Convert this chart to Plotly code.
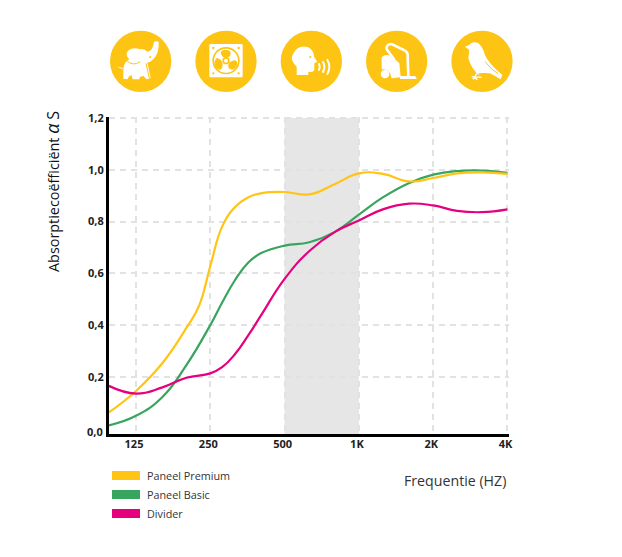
import re
import plotly.graph_objects as go

W, H = 622, 557
FONT = "Open Sans"
YEL, GRN, PNK = "#FFC414", "#38A55F", "#E6007E"
GOLD = "#FDC414"

hz_y = [97, 125, 160, 200, 225, 250, 280, 315, 355, 400, 500, 630, 800, 1000, 1250, 1600, 2000, 2500, 3150, 4000]
premium = [.062, .145, .253, .389, .474, .628, .783, .856, .893, .909, .914, .905, .945, .986, .984, .955, .968, .986, .990, .984]
hz_g = [97, 125, 160, 200, 250, 280, 315, 355, 400, 500, 630, 800, 1000, 1250, 1600, 2000, 2500, 3150, 4000]
basic = [.012, .049, .122, .245, .400, .489, .574, .640, .677, .707, .720, .760, .827, .893, .949, .981, .995, .997, .988]
hz_p = [97, 125, 160, 200, 250, 280, 315, 355, 400, 500, 630, 800, 1000, 1250, 1600, 2000, 2500, 3150, 4000]
divider = [.165, .135, .159, .196, .213, .238, .288, .358, .435, .578, .686, .760, .804, .847, .869, .862, .841, .836, .847]

x_ticks = [125, 250, 500, 1000, 2000, 4000]
x_labels = ["125", "250", "500", "1K", "2K", "4K"]
y_ticks = [0.2, 0.4, 0.6, 0.8, 1.0, 1.2]
y_labels = ["0,2", "0,4", "0,6", "0,8", "1,0", "1,2"]
band = [500, 1000]
legend_names = ["Paneel Premium", "Paneel Basic", "Divider"]


def px(x):
    return x / W


def py(y):
    return 1 - y / H


def icon_path(d):
    """Icon outlines are traced in 3x crop coordinates of the icon row."""
    toks = re.findall(r"[MLQCZ]|-?\d+\.?\d*", d)
    out, is_x = [], True
    for t in toks:
        if t in "MLQCZ":
            out.append(t)
            is_x = True
        else:
            v = float(t)
            if is_x:
                out.append(f"{px(90 + v / 3):.5f}")
            else:
                out.append(f"{py(20 + v / 3):.5f}")
            is_x = not is_x
    return " ".join(out)


shapes = []


def fill(d, color="white"):
    shapes.append(dict(type="path", xref="paper", yref="paper", path=icon_path(d), fillcolor=color, line=dict(width=0)))


def stroke(d, w, color="white"):
    shapes.append(dict(type="path", xref="paper", yref="paper", path=icon_path(d), line=dict(color=color, width=w)))


def disc(cx, cy, r, color="white"):
    shapes.append(dict(type="circle", xref="paper", yref="paper",
                       x0=px(90 + (cx - r) / 3), x1=px(90 + (cx + r) / 3),
                       y0=py(20 + (cy + r) / 3), y1=py(20 + (cy - r) / 3),
                       fillcolor=color, line=dict(width=0)))


# plot band
shapes.append(dict(type="rect", xref="x", yref="paper", x0=band[0], x1=band[1], y0=py(434), y1=py(118),
                   fillcolor="#E6E6E6", line=dict(width=0), layer="below"))

# icon discs
for cx in [152, 408, 664, 920, 1176]:
    disc(cx, 124, 92, GOLD)

# elephant
fill("M 100,150 Q 100,127 118,118 Q 104,105 114,92 Q 130,80 150,88 Q 162,84 172,95 Q 188,95 192,65 Q 200,62 206,66 Q 208,100 190,118 Q 180,128 172,127 L 182,174 L 170,178 L 160,168 L 150,170 L 148,178 L 128,178 L 125,166 L 118,168 L 112,178 L 100,176 Z")
fill("M 80,140 L 98,143 L 98,148 Z")
disc(181, 111, 3, GOLD)
stroke("M 110,122 Q 130,140 150,125", 1, GOLD)
stroke("M 168,130 L 178,174", 1, GOLD)

# fan
fill("M 362,72 L 454,72 Q 458,72 458,76 L 458,168 Q 458,172 454,172 L 362,172 Q 358,172 358,168 L 358,76 Q 358,72 362,72 Z")
disc(408, 122, 41, GOLD)
disc(408, 122, 36)
for cx, cy in [(370, 84), (446, 84), (370, 160), (446, 160)]:
    disc(cx, cy, 3.5, GOLD)
fill("M 398,110 Q 384,92 404,89 Q 428,88 420,108 Q 412,116 398,110 Z", GOLD)
fill("M 420,126 Q 442,112 442,134 Q 434,154 418,146 Q 410,136 420,126 Z", GOLD)
fill("M 398,134 Q 396,156 380,146 Q 366,130 380,114 Q 396,116 398,134 Z", GOLD)
disc(408, 122, 11, GOLD)
disc(408, 122, 6)

# speaking head
fill("M 620,165 L 620,140 Q 598,120 610,100 Q 625,72 655,82 Q 672,92 672,110 L 682,125 L 673,130 L 673,150 Q 670,158 655,155 L 655,165 Z")
disc(661, 111, 3, GOLD)
stroke("M 686,130 Q 692,140 686,152", 2)
stroke("M 698,124 Q 708,140 698,158", 2)
stroke("M 711,118 Q 725,140 711,164", 2)

# vacuum cleaner
fill("M 875,112 Q 885,100 905,108 L 928,130 L 932,172 L 905,175 Q 900,148 880,148 L 875,148 Z")
disc(885, 162, 13)
stroke("M 912,118 L 890,88 Q 888,72 905,72 L 945,92 Q 955,98 953,112 L 955,168", 2.6)
stroke("M 912,100 L 898,84 L 940,106", 1.2, GOLD)
fill("M 930,168 L 975,168 L 981,177 L 930,177 Z")

# bird
fill("M 1125,80 L 1138,74 Q 1150,62 1165,70 Q 1178,80 1185,105 Q 1195,130 1237,165 L 1232,178 L 1200,160 Q 1180,158 1165,160 L 1170,168 Q 1145,150 1135,115 L 1138,90 Z")
stroke("M 1185,125 Q 1205,150 1225,162", 1, GOLD)
stroke("M 1160,160 L 1152,176 M 1145,170 L 1175,172 M 1148,178 L 1155,172 L 1162,180", 1.3)

# legend swatches
swatches = [(YEL, 471, 480), (GRN, 490, 499), (PNK, 509, 518)]
for color, y0, y1 in swatches:
    shapes.append(dict(type="rect", xref="paper", yref="paper", x0=px(112), x1=px(140), y0=py(y1), y1=py(y0),
                       fillcolor=color, line=dict(width=0)))

fig = go.Figure()
for name, xs, ys, c in [(legend_names[1], hz_g, basic, GRN), (legend_names[0], hz_y, premium, YEL), (legend_names[2], hz_p, divider, PNK)]:
    fig.add_trace(go.Scatter(x=xs, y=ys, name=name, mode="lines", line=dict(color=c, width=2.2, shape="spline", smoothing=1.3)))

annotations = []
for (color, y0, y1), name in zip(swatches, legend_names):
    annotations.append(dict(text=name, xref="paper", yref="paper", x=px(145), y=py((y0 + y1) / 2), xanchor="left",
                            yanchor="middle", showarrow=False, font=dict(family=FONT, size=10.8, color="#333333")))
annotations.append(dict(text="Frequentie (HZ)", xref="paper", yref="paper", x=px(508), y=py(480), xanchor="right",
                        yanchor="middle", showarrow=False, font=dict(family=FONT, size=14.2, color="#333333")))
annotations.append(dict(text='Absorptiecoëfficiënt <span style="font-size:18px"><i>α</i></span> <span style="font-size:16px">S</span>',
                        xref="paper", yref="paper", x=px(52), y=py(192),
                        xanchor="center", yanchor="middle", textangle=-90, showarrow=False,
                        font=dict(family=FONT, size=14.4, color="#111111")))
annotations.append(dict(text="<b>0,0</b>", xref="paper", yref="paper", x=px(105), y=py(432), xanchor="right",
                        yanchor="middle", showarrow=False, font=dict(family=FONT, size=11, color="#222222")))

grid = dict(showgrid=True, gridcolor="#E2E2E2", gridwidth=2, griddash="6px,5px", zeroline=False, automargin=False,
            showline=True, linecolor="black", linewidth=3, ticks="", tickfont=dict(family=FONT, size=11, color="#222222"))

fig.update_layout(
    width=W, height=H, margin=dict(l=0, r=0, t=0, b=0), paper_bgcolor="white", plot_bgcolor="white",
    showlegend=False, shapes=shapes, annotations=annotations,
    xaxis=dict(type="log", domain=[px(109), px(509)], range=[1.9875, 3.6082], tickvals=x_ticks,
               ticktext=[f"<b>{t}</b>" for t in x_labels], ticklabelshift=-2, ticklabelstandoff=-2, **grid),
    yaxis=dict(domain=[py(434), py(116.5)], range=[-0.0212, 1.2058], tickvals=y_ticks,
               ticktext=[f"<b>{t}</b>" for t in y_labels], **grid),
)

fig.write_html("out.html", config=dict(displayModeBar=False, responsive=False),
               post_script="var g=document.getElementById('{plot_id}');document.body.style.margin='0';document.documentElement.style.overflow='hidden';g.style.position='fixed';g.style.left='0';g.style.top='0';")
